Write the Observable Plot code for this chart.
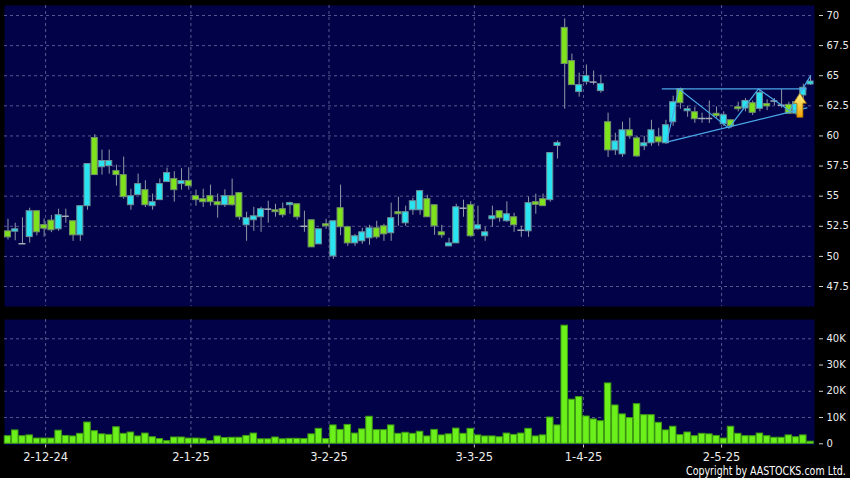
<!DOCTYPE html>
<html><head><meta charset="utf-8">
<script src="https://cdn.jsdelivr.net/npm/d3@7"></script>
<script src="https://cdn.jsdelivr.net/npm/@observablehq/plot@0.6"></script>
<style>
html,body{margin:0;padding:0;background:#000;}
#wrap{position:relative;width:850px;height:478px;background:#000;overflow:hidden;font-family:"DejaVu Sans",Verdana,sans-serif;}
#wrap svg{display:block;}
#copy{position:absolute;right:4px;top:465px;color:#fff;font-size:11.5px;line-height:12px;white-space:nowrap;transform:scaleX(0.824);transform-origin:right top;}
</style></head><body><div id="wrap"></div>
<script>
// ---- data ----
const openP  = [52.08,52.05,51.05,51.6,53.75,52.6,52.97,52.25,53.33,52.92,51.75,54.17,59.83,57.4,57.5,57.08,56.75,54.25,55.08,55.5,
 54.17,54.67,56.17,56.42,56.0,56.25,55.0,54.75,55.0,54.5,54.25,55.0,55.25,52.58,53.0,53.25,53.92,53.83,53.92,54.25,
 54.33,52.5,53.0,51.0,52.67,50.0,54.0,52.42,51.08,51.25,51.5,52.33,52.5,51.92,53.67,52.75,53.83,53.83,54.75,54.25,
 52.0,50.83,51.08,54.0,54.25,52.25,51.67,53.08,53.75,52.92,53.25,52.17,52.08,54.5,54.75,54.67,59.17,68.97,66.22,63.64,
 64.47,64.47,63.72,61.14,58.8,58.47,60.47,59.8,59.14,59.39,59.89,59.39,61.14,63.89,62.05,61.97,61.45,61.45,61.84,60.97,
 61.3,62.38,62.28,62.72,62.25,62.65,62.9,62.55,62.58,61.85,63.36,64.27];
const highP  = [53.08,52.75,53.2,54.0,53.8,53.1,53.4,53.92,53.92,52.92,54.17,57.67,60.1,58.83,58.83,57.58,58.25,55.58,56.83,56.28,
 55.17,56.42,57.33,57.03,57.28,57.36,55.5,55.58,55.92,55.17,55.53,56.42,55.25,53.67,54.08,54.08,54.58,54.33,54.42,54.5,
 54.33,53.75,53.0,52.25,53.08,52.92,55.92,52.42,51.83,52.33,52.58,52.92,52.67,54.42,54.92,54.17,54.83,55.42,55.08,54.25,
 52.58,51.5,54.33,54.67,54.53,54.17,52.42,54.17,53.75,54.53,53.58,52.5,54.92,55.17,55.17,58.58,59.58,69.72,66.8,65.22,
 65.89,65.39,65.05,61.89,60.22,61.14,61.47,59.97,59.97,61.3,60.64,61.3,63.3,63.97,62.47,62.36,61.89,62.9,62.4,62.0,
 61.3,62.8,63.1,62.9,63.84,63.0,63.1,63.85,62.8,63.0,64.3,65.0];
const lowP   = [51.36,51.3,51.0,51.1,51.7,51.6,51.97,52.08,52.75,51.25,51.25,53.83,56.75,56.75,56.83,55.83,54.75,53.83,55.08,54.06,
 53.83,54.67,56.17,54.5,55.5,55.5,54.17,54.06,54.17,53.17,54.06,54.17,53.0,51.25,52.08,52.0,52.75,53.25,53.2,53.5,
 53.0,52.0,50.75,51.0,52.25,49.75,51.72,50.83,50.83,51.0,50.92,51.42,51.25,51.25,52.5,52.5,53.42,53.42,53.25,51.75,
 51.5,50.83,51.08,53.25,51.58,52.17,51.25,52.42,52.83,52.83,52.0,51.58,51.58,53.5,54.17,54.5,58.08,62.22,64.22,63.22,
 64.22,64.22,63.55,58.22,58.39,58.22,59.72,58.22,58.8,59.14,59.14,59.3,60.8,62.22,61.55,61.05,61.05,61.03,61.47,60.8,
 60.6,62.0,62.0,61.7,62.0,62.1,62.5,62.3,61.84,61.7,62.9,64.2];
const closeP = [51.58,52.25,51.05,53.75,52.0,52.3,52.17,53.42,53.33,51.75,54.17,57.67,56.75,57.92,57.92,56.75,54.92,55.0,56.0,54.25,
 54.5,56.0,56.92,55.5,56.25,55.83,54.67,54.5,54.5,54.25,55.0,54.25,53.25,53.17,53.33,53.92,53.92,53.67,53.42,54.42,
 53.25,52.5,50.75,52.25,52.5,52.92,52.42,51.08,51.67,52.0,52.33,51.58,51.83,53.17,53.5,53.67,54.58,55.42,53.25,52.5,
 51.75,51.08,54.08,54.0,51.67,52.58,52.0,53.33,53.17,53.5,52.58,52.17,54.42,54.28,54.17,58.58,59.42,65.97,64.22,64.22,
 64.97,64.47,64.3,58.8,59.55,60.47,59.97,58.3,59.39,60.47,59.47,60.89,62.8,62.72,62.22,61.39,61.45,61.45,61.64,61.72,
 60.8,62.22,62.91,61.92,63.58,62.45,62.9,62.55,61.84,62.8,64.0,64.52];
const volume = [2900,5100,2900,3200,2000,2000,2000,5000,3000,2800,3800,8100,4800,3600,3400,6300,3800,4300,2800,3900,
 2500,1800,1000,2400,2400,2000,2000,1900,1000,2800,2200,2300,2300,3000,3900,1700,1700,2400,1700,1900,
 1900,1800,3600,5700,1800,7000,5300,7200,3900,5500,10300,5200,5200,7000,3800,4200,3800,4600,2800,5300,
 3200,3600,5800,3800,5700,3200,2800,2800,2500,3900,3400,3900,5700,2800,3200,10000,7000,45000,16800,17800,
 10400,9300,8600,23000,14600,11200,9800,15100,10900,10900,8000,5100,6500,3300,4300,2900,3800,3600,3000,2000,
 6500,3800,2900,2900,3900,2900,2300,2300,3200,2500,3200,800];
const priceTicks = [47.5,50,52.5,55,57.5,60,62.5,65,67.5,70];
const volumeTicks = [0,10000,20000,30000,40000];
const dateTickPos = [5.2,25.3,44.4,64.5,79.6,98.7];
const dateTickLabels = ["2-12-24","2-1-25","3-2-25","3-3-25","1-4-25","2-5-25"];
// pattern (triangle) drawn on the chart, in (bar index, price)
const resistanceLine = [{i:90.5,v:63.9},{i:110.4,v:63.9}];
const supportLine    = [{i:91.1,v:59.48},{i:110.5,v:62.33}];
const zigzagLine     = [{i:91.1,v:59.48},{i:92.8,v:63.9},{i:99.7,v:60.65},{i:103.8,v:63.9},{i:108.1,v:62.1},{i:111.0,v:65.0}];
const arrowAt = {i:109.6, v:63.5};

// ---- build ----
const bars = d3.range(openP.length).map(i => ({i, o:openP[i], h:highP[i], l:lowP[i], c:closeP[i], vol:volume[i]}));
const ups = bars.filter(d => d.c > d.o), downs = bars.filter(d => d.c < d.o), flats = bars.filter(d => d.c === d.o);

const xDomain = [-0.484, 111.55];
const navy = "#020248";
const grid = "#575790";
const textCol = "#ececec";
const style = {background:"transparent", color:textCol, fontFamily:"'DejaVu Sans', Verdana, sans-serif", fontSize:"10px", overflow:"visible"};
const hw = 0.42;

function arrowMark(a) {
  return (index, scales) => {
    const x = scales.x(a.i), y = scales.y(a.v);
    const g = d3.create("svg:g");
    const grad = g.append("defs").append("linearGradient").attr("id","arrowGrad").attr("x1",0).attr("y1",0).attr("x2",0).attr("y2",1);
    grad.append("stop").attr("offset","0%").attr("stop-color","#fff48a");
    grad.append("stop").attr("offset","100%").attr("stop-color","#f0a400");
    g.append("path")
      .attr("d", `M${x},${y} l6.5,10 h-3.5 v14 h-6 v-14 h-3.5 z`)
      .attr("fill","url(#arrowGrad)").attr("stroke","#a86d00").attr("stroke-width",0.8);
    return g.node();
  };
}

const topChart = Plot.plot({
  width:850, height:310, marginLeft:4, marginRight:36, marginTop:5, marginBottom:4,
  style,
  x:{domain:xDomain, axis:null},
  y:{domain:[45.84,70.83], axis:null},
  marks:[
    Plot.frame({fill:navy, stroke:null}),
    Plot.gridY(priceTicks, {stroke:grid, strokeOpacity:1, strokeDasharray:"3,3"}),
    Plot.gridX(dateTickPos, {stroke:grid, strokeOpacity:1, strokeDasharray:"3,3"}),
    Plot.ruleX(bars, {x:"i", y1:"l", y2:"h", stroke:"#8d9aa8", strokeWidth:1}),
    Plot.rect(ups, {x1:d=>d.i-hw, x2:d=>d.i+hw, y1:"o", y2:"c", fill:"#29e4f0", stroke:"#6d8f98", strokeWidth:1}),
    Plot.rect(downs, {x1:d=>d.i-hw, x2:d=>d.i+hw, y1:"o", y2:"c", fill:"#7ee21c", stroke:"#72906a", strokeWidth:1}),
    Plot.ruleY(flats, {y:"o", x1:d=>d.i-0.48, x2:d=>d.i+0.48, stroke:"#a3adb8", strokeWidth:1.5}),
    Plot.line(resistanceLine, {x:"i", y:"v", stroke:"#4aa8e8", strokeWidth:1.3}),
    Plot.line(supportLine, {x:"i", y:"v", stroke:"#4aa8e8", strokeWidth:1.3}),
    Plot.line(zigzagLine, {x:"i", y:"v", stroke:"#4aa8e8", strokeWidth:1.2}),
    arrowMark(arrowAt),
    Plot.axisY(priceTicks, {anchor:"right", dx:4, tickSize:4, tickPadding:4, tickFormat:d=>String(d), label:null, stroke:"#cfcfcf", fill:textCol, fontSize:10})
  ]
});

const botChart = Plot.plot({
  width:850, height:168, marginLeft:4, marginRight:36, marginTop:9, marginBottom:33.5,
  style,
  x:{domain:xDomain, axis:null},
  y:{domain:[-460,47350], axis:null},
  marks:[
    Plot.frame({fill:navy, stroke:null}),
    Plot.gridY(volumeTicks.filter(d=>d>0), {stroke:grid, strokeOpacity:1, strokeDasharray:"3,3"}),
    Plot.gridX(dateTickPos, {stroke:grid, strokeOpacity:1, strokeDasharray:"3,3"}),
    Plot.rect(bars, {x1:d=>d.i-0.45, x2:d=>d.i+0.45, y1:0, y2:"vol", fill:"#6cf01c", stroke:"#3d9a12", strokeWidth:1}),
    Plot.axisY(volumeTicks, {anchor:"right", dx:4, tickSize:4, tickPadding:4, tickFormat:d=>d===0?"0":(d/1000)+"K", label:null, stroke:"#cfcfcf", fill:textCol, fontSize:10}),
    Plot.axisX(dateTickPos, {anchor:"bottom", tickSize:3, tickPadding:5, tickFormat:d=>dateTickLabels[dateTickPos.indexOf(d)], label:null, stroke:"#cfcfcf", fill:textCol, fontSize:11.5})
  ]
});

const wrap = document.getElementById("wrap");
wrap.appendChild(topChart);
wrap.appendChild(botChart);
const copy = document.createElement("div");
copy.id = "copy";
copy.textContent = "Copyright by AASTOCKS.com Ltd.";
wrap.appendChild(copy);
</script>
</body></html>
